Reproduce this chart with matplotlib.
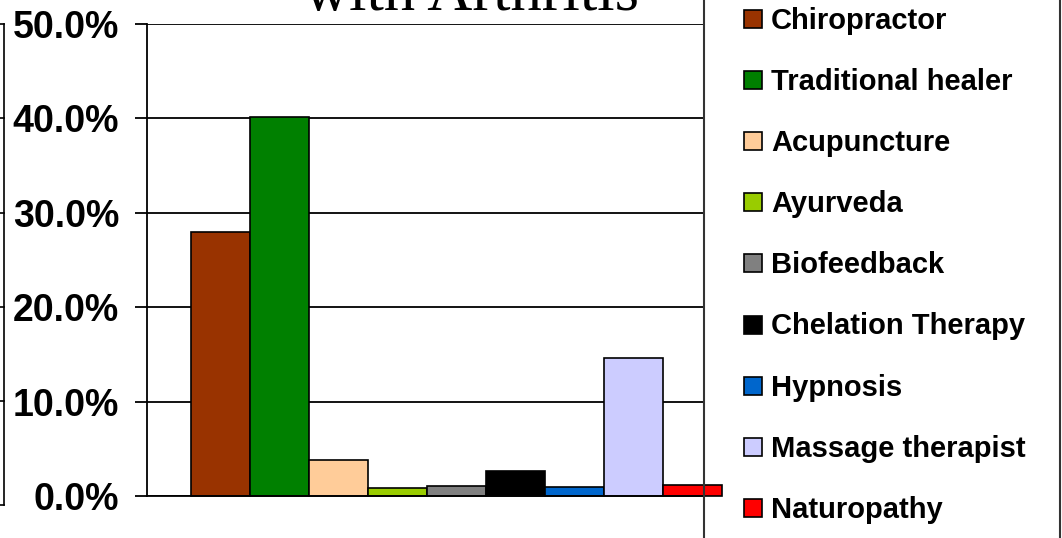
import matplotlib
matplotlib.use("Agg")
import matplotlib.pyplot as plt
from matplotlib.patches import Rectangle
from matplotlib.lines import Line2D
from matplotlib.ticker import FuncFormatter

# data
therapies = ["Chiropractor", "Traditional healer", "Acupuncture", "Ayurveda",
             "Biofeedback", "Chelation Therapy", "Hypnosis", "Massage therapist",
             "Naturopathy"]
percent = [28.0, 40.2, 3.8, 0.9, 1.1, 2.6, 1.0, 14.6, 1.2]
colors = ["#993300", "#008000", "#FFCC99", "#99CC00", "#808080", "#000000",
          "#0066CC", "#CCCCFF", "#FF0000"]
yticks = [0, 10, 20, 30, 40, 50]

W, H = 1062, 538
fig = plt.figure(figsize=(W / 100, H / 100), dpi=100)

def fx(px):
    return px / W

def fy(py):
    return 1 - py / H

# plot area
ax = fig.add_axes([fx(147), fy(496), fx(703) - fx(147), fy(24) - fy(496)])
for i, (v, c) in enumerate(zip(percent, colors)):
    ax.bar(i, v, width=1.0, color=c, edgecolor="black", linewidth=1.2,
           clip_on=False, zorder=3)

ax.set_xlim(-1.246, 8.178)
ax.set_ylim(0, 50)
ax.set_yticks(yticks)
ax.yaxis.set_major_formatter(FuncFormatter(lambda v, p: "%.1f%%" % v))
ax.set_xticks([])
ax.grid(axis="y", color="black", linewidth=1.3, zorder=0)
for s in ["top", "right"]:
    ax.spines[s].set_visible(False)
ax.spines["left"].set_linewidth(1.3)
ax.spines["bottom"].set_linewidth(1.3)
ax.spines["bottom"].set_zorder(4)
ax.tick_params(axis="y", length=9, width=1.3, pad=11, direction="out")
for lab in ax.get_yticklabels():
    lab.set_fontfamily("Liberation Sans")
    lab.set_fontweight("bold")
    lab.set_fontsize(27)

# title, mostly cut off at the top of the image
fig.text(fx(471), fy(10), "with Arthritis", ha="center", va="baseline",
         fontfamily="Liberation Serif", fontsize=45)

# legend box (extends past the image edges)
fig.add_artist(Rectangle((fx(704), fy(560)), fx(1060) - fx(704), fy(-20) - fy(560),
                         transform=fig.transFigure, facecolor="none",
                         edgecolor="#333333", linewidth=1.5, clip_on=False))
for k, (name, c) in enumerate(zip(therapies, colors)):
    yc = 19 + k * 61.1
    fig.add_artist(Rectangle((fx(744), fy(yc + 9)), fx(18), 18 / H,
                             transform=fig.transFigure, facecolor=c,
                             edgecolor="black", linewidth=1.2))
    fig.text(fx(771), fy(yc + 2), name, ha="left", va="center",
             fontfamily="Liberation Sans", fontweight="bold", fontsize=21)

# frame of a neighbouring chart at the left edge
fig.add_artist(Line2D([fx(4), fx(4)], [fy(24), fy(505)], transform=fig.transFigure,
                      color="black", linewidth=1.2))
for py in [24, 118, 213, 307, 401, 505]:
    fig.add_artist(Line2D([0, fx(4)], [fy(py), fy(py)], transform=fig.transFigure,
                          color="black", linewidth=1.2))

fig.savefig("out.png", dpi=100, facecolor="white")
